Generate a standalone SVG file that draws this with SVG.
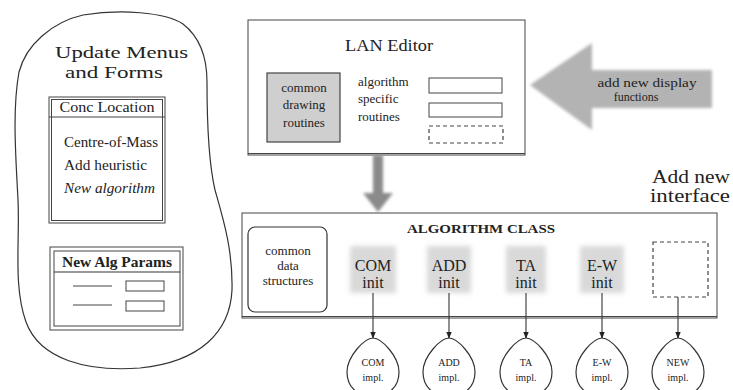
<svg xmlns="http://www.w3.org/2000/svg" width="733" height="390" viewBox="0 0 733 390">
<defs>
<filter id="soft" x="-20%" y="-20%" width="140%" height="140%"><feGaussianBlur stdDeviation="1.5"/></filter>
<filter id="soft2" x="-30%" y="-30%" width="160%" height="160%"><feGaussianBlur stdDeviation="2.5"/></filter>
<marker id="ah" viewBox="0 0 10 10" refX="9" refY="5" markerWidth="7" markerHeight="7" orient="auto" markerUnits="userSpaceOnUse"><path d="M0,1 L10,5 L0,9 Z" fill="#222"/></marker>
</defs>
<style>
text{font-family:"Liberation Serif",serif;fill:#222}
.ln{fill:none;stroke:#333;stroke-width:1.2}
.thin{fill:none;stroke:#444;stroke-width:1}
.dash{fill:none;stroke:#444;stroke-width:1.2;stroke-dasharray:4,3}
.init{fill:#d9d9d9;filter:url(#soft2)}
.big{font-size:16px}
.mid{font-size:13px}
.sm{font-size:10px}
.c{text-anchor:middle}
.conn{stroke:#333;stroke-width:1.1;fill:none;marker-end:url(#ah)}
</style>
<rect width="733" height="390" fill="#fff"/>

<g id="menus">
<path class="ln" d="M83,15 C120,9 165,12 183,24 C201,38 207,58 207,82 C207,122 208,160 215,190 C223,218 233,250 232,290 C230,332 200,362 140,368 C88,372 40,360 26,322 C13,286 20,240 18,200 C16,160 12,110 19,72 C26,45 52,22 83,15 Z"/>
<text x="55" y="58" font-size="17" textLength="133" lengthAdjust="spacingAndGlyphs">Update Menus</text>
<text x="65" y="78" font-size="17" textLength="98" lengthAdjust="spacingAndGlyphs">and Forms</text>
</g>

<g id="conc-location">
<rect class="thin" x="49" y="97" width="116" height="126"/>
<rect class="thin" x="51.5" y="99.5" width="111" height="121"/>
<line class="thin" x1="49" y1="117" x2="165" y2="117"/>
<text x="107" y="112" class="c" font-size="14" textLength="95" lengthAdjust="spacingAndGlyphs">Conc Location</text>
<text x="64" y="147" font-size="14" textLength="94" lengthAdjust="spacingAndGlyphs">Centre-of-Mass</text>
<text x="64" y="170" font-size="14" textLength="83" lengthAdjust="spacingAndGlyphs">Add heuristic</text>
<text x="64" y="193" font-size="14" font-style="italic" textLength="91" lengthAdjust="spacingAndGlyphs">New algorithm</text>
</g>

<g id="new-alg-params">
<rect class="thin" x="50" y="247" width="133" height="83"/>
<rect class="thin" x="54" y="251" width="126" height="75"/>
<line class="ln" x1="54" y1="272" x2="180" y2="272"/>
<text x="117" y="267" class="c" font-size="14" font-weight="bold" textLength="110" lengthAdjust="spacingAndGlyphs">New Alg Params</text>
<line class="thin" x1="73" y1="286" x2="112" y2="286"/>
<rect class="thin" x="126" y="281" width="38" height="10"/>
<line class="thin" x1="73" y1="305" x2="112" y2="305"/>
<rect class="thin" x="126" y="301" width="38" height="10"/>
</g>

<g id="lan-editor">
<rect class="thin" x="248" y="20" width="277" height="135"/>
<line class="thin" x1="248" y1="153.5" x2="525" y2="153.5"/>
<text x="389" y="51" class="c" font-size="17" textLength="88" lengthAdjust="spacingAndGlyphs">LAN Editor</text>
<rect x="267" y="73" width="73" height="69" fill="#cfcfcf" stroke="#444" stroke-width="1.2"/>
<text x="304" y="92" class="c mid">common</text>
<text x="304" y="109" class="c mid">drawing</text>
<text x="304" y="127" class="c mid">routines</text>
<text x="358" y="86" class="mid">algorithm</text>
<text x="358" y="103" class="mid">specific</text>
<text x="358" y="121" class="mid">routines</text>
<rect class="thin" x="429" y="78" width="73" height="15"/>
<rect class="thin" x="429" y="103" width="73" height="14"/>
<rect class="dash" x="429" y="126" width="74" height="17" stroke-width="1"/>
</g>

<g id="add-display">
<path d="M530,85 L592,43 L592,70 L712,70 L712,108 L592,108 L592,130 Z" fill="#b3b3b3" filter="url(#soft)"/>
<text x="647" y="87" class="c" font-size="12" textLength="99" lengthAdjust="spacingAndGlyphs">add new display</text>
<text x="636" y="101" class="c" font-size="12">functions</text>
</g>

<g id="add-interface">
<text x="652" y="183" font-size="19" textLength="78" lengthAdjust="spacingAndGlyphs">Add new</text>
<text x="650" y="202" font-size="19" textLength="80" lengthAdjust="spacingAndGlyphs">interface</text>
</g>

<g id="algorithm-class">
<rect class="thin" x="242" y="213" width="475" height="105"/>
<line class="thin" x1="242" y1="316.5" x2="717" y2="316.5"/>
<text x="481" y="233" class="c" font-size="12" font-weight="bold" textLength="148" lengthAdjust="spacingAndGlyphs">ALGORITHM CLASS</text>
<rect x="248" y="227" width="79" height="85" rx="7" class="ln"/>
<text x="288" y="255" class="c" font-size="13">common</text>
<text x="288" y="270" class="c" font-size="13">data</text>
<text x="288" y="285" class="c" font-size="13">structures</text>
</g>

<g id="com-init"><rect class="init" x="350" y="246" width="46" height="47"/><text x="373" y="271" class="c big">COM</text><text x="373" y="288" class="c big">init</text></g>
<g id="add-init"><rect class="init" x="427" y="246" width="44" height="47"/><text x="449" y="271" class="c big">ADD</text><text x="449" y="288" class="c big">init</text></g>
<g id="ta-init"><rect class="init" x="506" y="246" width="40" height="47"/><text x="526" y="271" class="c big">TA</text><text x="526" y="288" class="c big">init</text></g>
<g id="ew-init"><rect class="init" x="580" y="246" width="44" height="47"/><text x="602" y="271" class="c big">E-W</text><text x="602" y="288" class="c big">init</text></g>
<g id="new-init"><rect class="dash" x="653" y="242" width="55" height="55"/></g>

<g id="com-impl"><path class="ln" d="M373,338 C381,338 399,356 399,372 C399,388 388,396 373,396 C358,396 347,388 347,372 C347,356 365,338 373,338 Z"/><text x="373" y="366" class="c sm">COM</text><text x="373" y="381" class="c sm">impl.</text></g>
<g id="add-impl"><path class="ln" d="M449,338 C457,338 475,356 475,372 C475,388 464,396 449,396 C434,396 423,388 423,372 C423,356 441,338 449,338 Z"/><text x="449" y="366" class="c sm">ADD</text><text x="449" y="381" class="c sm">impl.</text></g>
<g id="ta-impl"><path class="ln" d="M526,338 C534,338 552,356 552,372 C552,388 541,396 526,396 C511,396 500,388 500,372 C500,356 518,338 526,338 Z"/><text x="526" y="366" class="c sm">TA</text><text x="526" y="381" class="c sm">impl.</text></g>
<g id="ew-impl"><path class="ln" d="M602,338 C610,338 628,356 628,372 C628,388 617,396 602,396 C587,396 576,388 576,372 C576,356 594,338 602,338 Z"/><text x="602" y="366" class="c sm">E-W</text><text x="602" y="381" class="c sm">impl.</text></g>
<g id="new-impl"><path class="ln" d="M678,338 C686,338 704,356 704,372 C704,388 693,396 678,396 C663,396 652,388 652,372 C652,356 670,338 678,338 Z"/><text x="678" y="366" class="c sm">NEW</text><text x="678" y="381" class="c sm">impl.</text></g>

<g id="connectors">
<g filter="url(#soft)" fill="#8a8a8a">
<rect x="373" y="155" width="10" height="38"/>
<path d="M363,193 L393,193 L378,212 Z"/>
</g>
<line class="conn" x1="373" y1="293" x2="373" y2="338"/>
<line class="conn" x1="449" y1="293" x2="449" y2="338"/>
<line class="conn" x1="526" y1="293" x2="526" y2="338"/>
<line class="conn" x1="602" y1="293" x2="602" y2="338"/>
<line class="conn" x1="678" y1="297" x2="678" y2="338"/>
</g>
</svg>
